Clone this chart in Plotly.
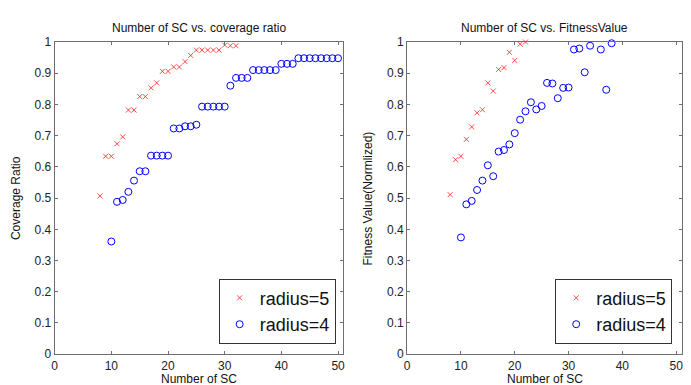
import plotly.graph_objects as go

# Left chart: coverage ratio
cov_r5_x = [8, 9, 10, 11, 12, 13, 14, 15, 16, 17, 18, 19, 20, 21, 22, 23, 24, 25, 26, 27, 28, 29, 30, 31, 32]
cov_r5_y = [0.507, 0.634, 0.634, 0.674, 0.696, 0.782, 0.782, 0.825, 0.825, 0.853, 0.869, 0.906, 0.906,
            0.92, 0.92, 0.937, 0.957, 0.974, 0.974, 0.974, 0.974, 0.974, 0.99, 0.988, 0.988]
cov_r4_x = list(range(10, 51))
cov_r4_y = [0.361, 0.488, 0.494, 0.52, 0.556, 0.586, 0.586, 0.636, 0.636, 0.636, 0.636, 0.723, 0.723,
            0.73, 0.73, 0.735, 0.793, 0.793, 0.793, 0.793, 0.793, 0.86, 0.885, 0.885, 0.885,
            0.91, 0.91, 0.91, 0.91, 0.91, 0.93, 0.93, 0.93,
            0.948, 0.948, 0.948, 0.948, 0.948, 0.948, 0.948, 0.948]

# Right chart: fitness value
fit_r5_x = [8, 9, 10, 11, 12, 13, 14, 15, 16, 17, 18, 19, 20, 21, 22]
fit_r5_y = [0.511, 0.623, 0.634, 0.688, 0.728, 0.773, 0.783, 0.869, 0.843, 0.912, 0.918, 0.967, 0.941, 0.993, 1.0]
fit_r4_x = [10, 11, 12, 13, 14, 15, 16, 17, 18, 19, 20, 21, 22, 23, 24, 25, 26, 27, 28, 29, 30,
            31, 32, 33, 34, 36, 37, 38]
fit_r4_y = [0.374, 0.48, 0.491, 0.526, 0.556, 0.605, 0.57, 0.649, 0.654, 0.672, 0.708, 0.751, 0.778,
            0.807, 0.784, 0.795, 0.869, 0.867, 0.82, 0.853, 0.854, 0.976, 0.979, 0.903, 0.988,
            0.976, 0.847, 0.996]

x_ticks = [0, 10, 20, 30, 40, 50]
y_ticks = [0, 0.1, 0.2, 0.3, 0.4, 0.5, 0.6, 0.7, 0.8, 0.9, 1]
y_ticklabels = ["0", "0.1", "0.2", "0.3", "0.4", "0.5", "0.6", "0.7", "0.8", "0.9", "1"]

titles = ["Number of SC vs. coverage ratio", "Number of SC vs. FitnessValue"]
ytitles = ["Coverage Ratio", "Fitness Value(Normlized)"]
xtitle = "Number of SC"
legend_names = ["radius=5", "radius=4"]

W, H = 691, 385
FONT = "Liberation Sans, Arial, sans-serif"

fig = go.Figure()

red_marker = dict(symbol="x-thin", size=5, color="rgba(255,0,0,0.7)", line=dict(width=1, color="rgba(255,0,0,0.7)"))
blue_marker = dict(symbol="circle-open", size=7, color="blue", line=dict(width=1, color="blue"))

fig.add_trace(go.Scatter(x=cov_r5_x, y=cov_r5_y, mode="markers", name=legend_names[0],
                         marker=red_marker, xaxis="x", yaxis="y", legend="legend", cliponaxis=False))
fig.add_trace(go.Scatter(x=cov_r4_x, y=cov_r4_y, mode="markers", name=legend_names[1],
                         marker=blue_marker, xaxis="x", yaxis="y", legend="legend", cliponaxis=False))
fig.add_trace(go.Scatter(x=fit_r5_x, y=fit_r5_y, mode="markers", name=legend_names[0],
                         marker=red_marker, xaxis="x2", yaxis="y2", legend="legend2", cliponaxis=False))
fig.add_trace(go.Scatter(x=fit_r4_x, y=fit_r4_y, mode="markers", name=legend_names[1],
                         marker=blue_marker, xaxis="x2", yaxis="y2", legend="legend2", cliponaxis=False))

def px_x(p):
    return p / W

def px_y(p):
    return 1 - p / H

dom_x1 = [px_x(44), px_x(334)]
dom_x2 = [px_x(399), px_x(676)]
dom_y = [px_y(352), px_y(28)]

axis_common = dict(showline=True, linecolor="#6e6e6e", linewidth=1, mirror="ticks", ticks="inside",
                   ticklen=3, tickcolor="#6e6e6e", showgrid=False, zeroline=False,
                   tickfont=dict(family=FONT, size=12, color="#222"))

fig.update_layout(
    width=W, height=H, margin=dict(l=0, r=0, t=0, b=0),
    paper_bgcolor="white", plot_bgcolor="white",
    font=dict(family=FONT, color="#222"),
    xaxis=dict(domain=dom_x1, range=[0, 50.8], tickvals=x_ticks, anchor="y", **axis_common),
    yaxis=dict(domain=dom_y, range=[0, 1], tickvals=y_ticks, ticktext=y_ticklabels, anchor="x", **axis_common),
    xaxis2=dict(domain=dom_x2, range=[0, 51.1], tickvals=x_ticks, anchor="y2", **axis_common),
    yaxis2=dict(domain=dom_y, range=[0, 1], tickvals=y_ticks, ticktext=y_ticklabels, anchor="x2", **axis_common),
    legend=dict(x=px_x(327), y=px_y(341), xanchor="right", yanchor="bottom",
                bordercolor="#333", borderwidth=1, bgcolor="white",
                font=dict(family=FONT, size=18, color="#111"), itemsizing="trace",
                tracegroupgap=0),
    legend2=dict(x=px_x(666), y=px_y(341), xanchor="right", yanchor="bottom",
                 bordercolor="#333", borderwidth=1, bgcolor="white",
                 font=dict(family=FONT, size=18, color="#111"), itemsizing="trace",
                 tracegroupgap=0),
    showlegend=True,
)

annotations = []
for i, cx in enumerate([(44 + 334) / 2, (399 + 676) / 2]):
    annotations.append(dict(text=titles[i], x=px_x(cx), y=px_y(13), xref="paper", yref="paper",
                            showarrow=False, xanchor="center", yanchor="middle",
                            font=dict(family=FONT, size=12, color="#111")))
    annotations.append(dict(text=xtitle, x=px_x(cx), y=px_y(378), xref="paper", yref="paper",
                            showarrow=False, xanchor="center", yanchor="middle",
                            font=dict(family=FONT, size=12, color="#111")))
for i, lx in enumerate([5, 360]):
    annotations.append(dict(text=ytitles[i], x=px_x(lx), y=px_y(190), xref="paper", yref="paper",
                            showarrow=False, xanchor="center", yanchor="middle", textangle=-90,
                            font=dict(family=FONT, size=12, color="#111")))
fig.update_layout(annotations=annotations)

fig.write_html("out.html")
